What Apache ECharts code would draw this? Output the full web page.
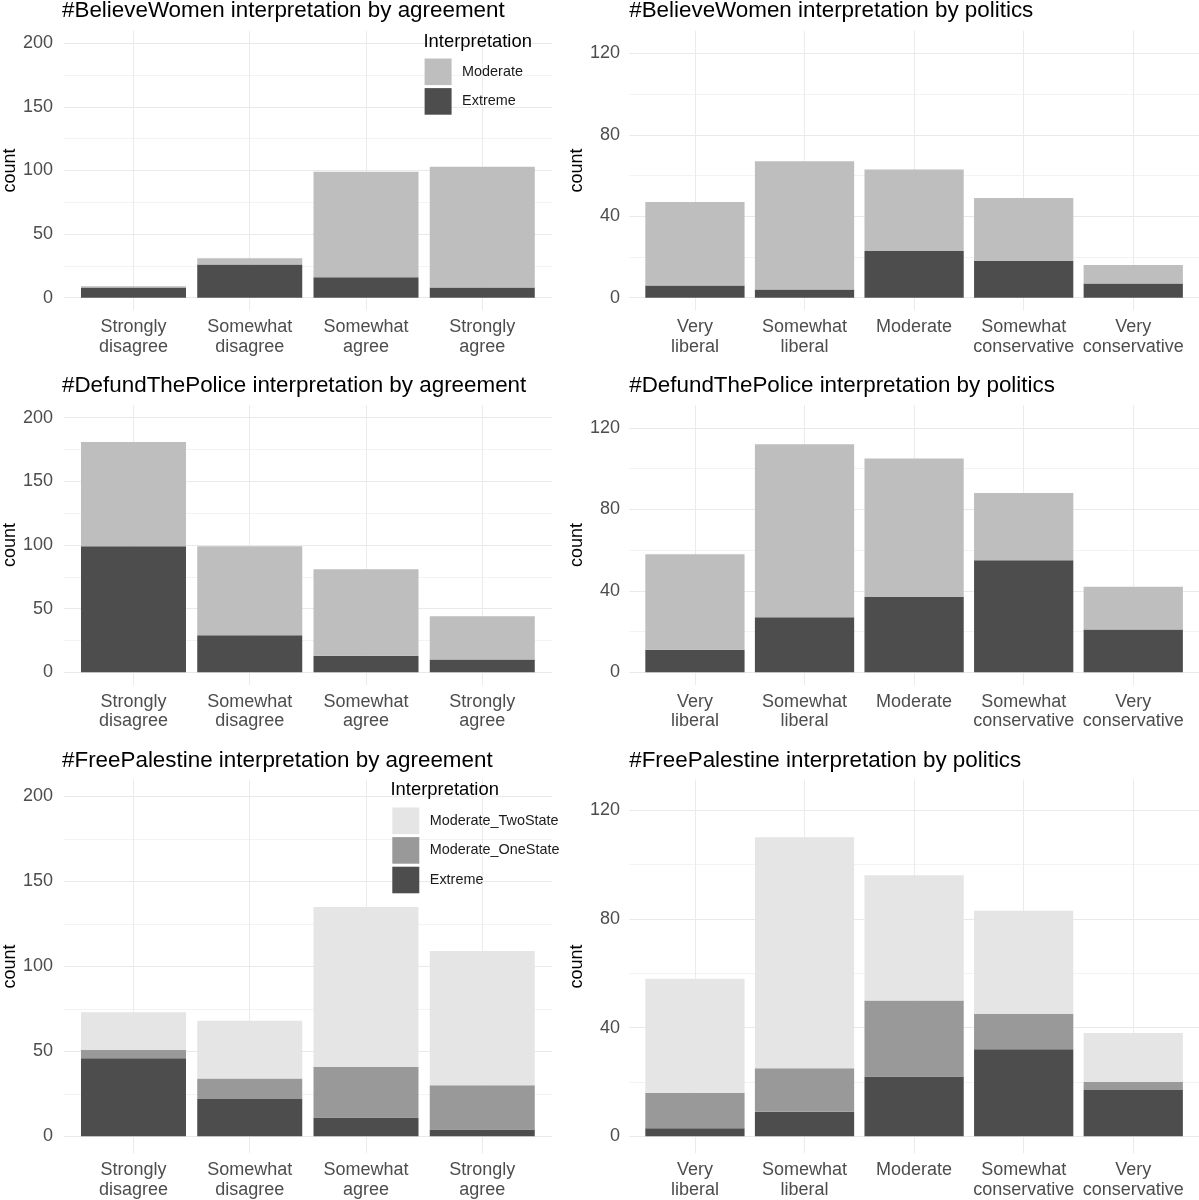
<!DOCTYPE html>
<html>
<head>
<meta charset="utf-8">
<title>Interpretation by agreement and politics</title>
<script src="https://cdn.jsdelivr.net/npm/echarts@6/dist/echarts.min.js"></script>
<style>
  html, body { margin: 0; padding: 0; background: #fff; }
  #chart { width: 1199px; height: 1200px; }
</style>
</head>
<body>
<div id="chart"></div>
<script>
// categories
var agreeCats = ['Strongly\ndisagree', 'Somewhat\ndisagree', 'Somewhat\nagree', 'Strongly\nagree'];
var polCats = ['Very\nliberal', 'Somewhat\nliberal', 'Moderate', 'Somewhat\nconservative', 'Very\nconservative'];

// #BelieveWomen
var bwAgreeExtreme = [8, 26, 16, 8];
var bwAgreeModerate = [1, 5, 83, 95];
var bwPolExtreme = [6, 4, 23, 18, 7];
var bwPolModerate = [41, 63, 40, 31, 9];

// #DefundThePolice
var dtpAgreeExtreme = [99, 29, 13, 10];
var dtpAgreeModerate = [82, 70, 68, 34];
var dtpPolExtreme = [11, 27, 37, 55, 21];
var dtpPolModerate = [47, 85, 68, 33, 21];

// #FreePalestine
var fpAgreeExtreme = [46, 22, 11, 4];
var fpAgreeOneState = [5, 12, 30, 26];
var fpAgreeTwoState = [22, 34, 94, 79];
var fpPolExtreme = [3, 9, 22, 32, 17];
var fpPolOneState = [13, 16, 28, 13, 3];
var fpPolTwoState = [42, 85, 46, 38, 18];

// tick labels
var agreeTicks = [0, 50, 100, 150, 200];
var agreeGrid = [0, 25, 50, 75, 100, 125, 150, 175, 200];
var polTicks = [0, 40, 80, 120];
var polGrid = [0, 20, 40, 60, 80, 100, 120];

var colors = {
  Extreme: '#4D4D4D',
  Moderate: '#BEBEBE',
  Moderate_OneState: '#999999',
  Moderate_TwoState: '#E5E5E5'
};

var FONT = '"Liberation Sans", Arial, Helvetica, sans-serif';

var panels = [
  { title: '#BelieveWomen interpretation by agreement', cats: agreeCats, kind: 'agree',
    layers: [['Extreme', bwAgreeExtreme], ['Moderate', bwAgreeModerate]] },
  { title: '#BelieveWomen interpretation by politics', cats: polCats, kind: 'pol',
    layers: [['Extreme', bwPolExtreme], ['Moderate', bwPolModerate]] },
  { title: '#DefundThePolice interpretation by agreement', cats: agreeCats, kind: 'agree',
    layers: [['Extreme', dtpAgreeExtreme], ['Moderate', dtpAgreeModerate]] },
  { title: '#DefundThePolice interpretation by politics', cats: polCats, kind: 'pol',
    layers: [['Extreme', dtpPolExtreme], ['Moderate', dtpPolModerate]] },
  { title: '#FreePalestine interpretation by agreement', cats: agreeCats, kind: 'agree',
    layers: [['Extreme', fpAgreeExtreme], ['Moderate_OneState', fpAgreeOneState], ['Moderate_TwoState', fpAgreeTwoState]] },
  { title: '#FreePalestine interpretation by politics', cats: polCats, kind: 'pol',
    layers: [['Extreme', fpPolExtreme], ['Moderate_OneState', fpPolOneState], ['Moderate_TwoState', fpPolTwoState]] }
];

// panel geometry (px) - discrete x axis padded 0.6 band on each side like ggplot
var rows = [
  { top: 30.6, height: 279.8, titleTop: 0 },
  { top: 405, height: 280, titleTop: 375 },
  { top: 779.5, height: 373.8, titleTop: 749.4 }
];
var cols = [
  { left: 62, band: 116.67, labelMargin: 10.8, nameGap: 44.3 },
  { left: 629.2, band: 110.28, labelMargin: 9.2, nameGap: 41.5 }
];

var grids = [], xAxes = [], yAxes = [], series = [], titles = [];

panels.forEach(function (p, i) {
  var r = rows[Math.floor(i / 2)];
  var c = cols[i % 2];
  var agree = p.kind === 'agree';
  var n = p.cats.length;
  var positions = p.cats.map(function (cat, j) { return j + 1; });

  grids.push({ left: c.left, top: r.top, width: c.band * (n + 0.2), height: r.height, containLabel: false });

  titles.push({
    text: p.title, left: c.left, top: r.titleTop, padding: 0,
    textStyle: { fontSize: 22.4, fontWeight: 'normal', color: '#000', lineHeight: 22, fontFamily: FONT }
  });

  xAxes.push({
    type: 'value', gridIndex: i, min: 0.4, max: n + 0.6,
    axisLine: { show: false, onZero: false },
    axisTick: { show: false, customValues: positions },
    axisLabel: {
      color: '#4D4D4D', fontSize: 18, lineHeight: 19.5, margin: 7, fontFamily: FONT,
      customValues: positions,
      formatter: function (v) { return p.cats[Math.round(v) - 1]; }
    },
    splitLine: { show: true, lineStyle: { color: '#EBEBEB', width: 1 } }
  });

  yAxes.push({
    type: 'value', gridIndex: i,
    min: agree ? -10 : -6.25,
    max: agree ? 210 : 131.25,
    name: 'count', nameLocation: 'middle', nameRotate: 90, nameGap: c.nameGap,
    nameTextStyle: { color: '#000', fontSize: 18, lineHeight: 18, fontFamily: FONT },
    axisLine: { show: false, onZero: false },
    axisTick: { show: false, customValues: agree ? agreeGrid : polGrid },
    axisLabel: { color: '#4D4D4D', fontSize: 18, margin: c.labelMargin, fontFamily: FONT,
                 customValues: agree ? agreeTicks : polTicks },
    splitLine: { show: true, lineStyle: { color: ['#E9E9E9', '#F3F3F3'], width: 1 } }
  });

  // count first so the stack runs on the count dimension
  p.layers.forEach(function (layer) {
    series.push({
      name: layer[0], type: 'bar', xAxisIndex: i, yAxisIndex: i,
      stack: 'panel' + i, barWidth: c.band * 0.9,
      encode: { x: 1, y: 0 },
      itemStyle: { color: colors[layer[0]] },
      emphasis: { disabled: true },
      data: layer[1].map(function (v, j) { return [v, positions[j]]; })
    });
  });
});

// legend titles
titles.push({
  text: 'Interpretation', left: 423.5, top: 32.5, padding: 0,
  textStyle: { fontSize: 18.4, fontWeight: 'normal', color: '#000', lineHeight: 18.4, fontFamily: FONT }
});
titles.push({
  text: 'Interpretation', left: 390.5, top: 780.8, padding: 0,
  textStyle: { fontSize: 18.4, fontWeight: 'normal', color: '#000', lineHeight: 18.4, fontFamily: FONT }
});

var legendStyle = {
  orient: 'vertical', icon: 'rect', itemWidth: 27, itemHeight: 26.6, itemGap: 3,
  padding: 0, selectedMode: false,
  textStyle: { fontSize: 14.4, color: '#1A1A1A', fontFamily: FONT, padding: [0, 0, 0, 5.5] }
};

var myChart = echarts.init(document.getElementById('chart'));
myChart.setOption({
  animation: false,
  backgroundColor: '#fff',
  textStyle: { fontFamily: FONT },
  title: titles,
  legend: [
    Object.assign({}, legendStyle, { data: ['Moderate', 'Extreme'], left: 424.6, top: 58.5 }),
    Object.assign({}, legendStyle, { data: ['Moderate_TwoState', 'Moderate_OneState', 'Extreme'], left: 392.3, top: 807.5 })
  ],
  grid: grids,
  xAxis: xAxes,
  yAxis: yAxes,
  series: series
});
</script>
</body>
</html>
